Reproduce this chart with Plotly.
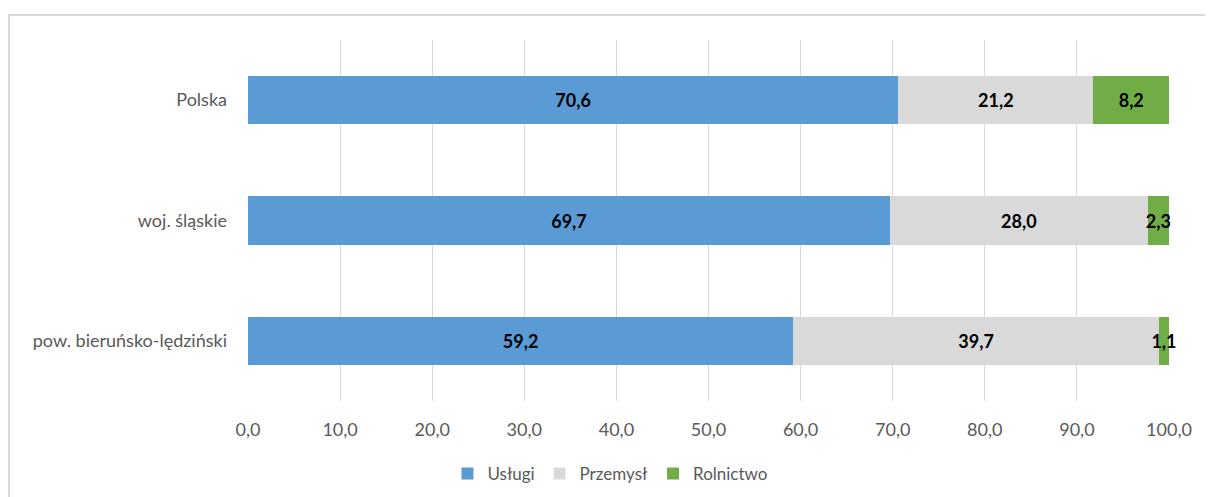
import plotly.graph_objects as go

# categories listed bottom to top
regions = ['pow. bieruńsko-lędziński', 'woj. śląskie', 'Polska']
uslugi = [59.2, 69.7, 70.6]
przemysl = [39.7, 28.0, 21.2]
rolnictwo = [1.1, 2.3, 8.2]
x_ticks = [0, 10, 20, 30, 40, 50, 60, 70, 80, 90, 100]

series = [('Usługi', uslugi, '#5B9BD5'),
          ('Przemysł', przemysl, '#D9D9D9'),
          ('Rolnictwo', rolnictwo, '#70AD47')]

fig = go.Figure()
for name, vals, color in series:
    fig.add_trace(go.Bar(
        y=regions, x=vals, name=name, orientation='h',
        marker=dict(color=color, line=dict(width=0)),
        texttemplate='%{x:.1f}', textposition='inside', textangle=0,
        insidetextanchor='middle', constraintext='none', cliponaxis=False,
        textfont=dict(family='Lato', size=18, color='black', weight='bold'),
    ))

# page body has an 8px margin, so the figure is drawn at (8, 8)
fig.update_layout(
    barmode='stack', bargap=0.6,
    width=1205, height=489,
    margin=dict(l=240, r=44, t=32, b=96, autoexpand=False),
    paper_bgcolor='white', plot_bgcolor='white',
    separators=', ',
    font=dict(family='Lato', color='#595959', size=17),
    legend=dict(orientation='h', x=0.393, xanchor='center',
                xref='paper', yref='container', y=0.047, yanchor='middle',
                traceorder='normal',
                font=dict(size=17, color='#595959'),
                itemwidth=30, tracegroupgap=0),
    shapes=[dict(type='rect', xref='paper', yref='paper',
                 x0=-0.2595, x1=1.2, y0=-0.5, y1=1.069,
                 line=dict(color='#D9D9D9', width=2), layer='below')],
)
fig.update_xaxes(range=[0, 100], tickvals=x_ticks, tickformat='.1f',
                 showgrid=True, gridcolor='#D9D9D9', gridwidth=1,
                 zeroline=False, showline=False, ticklabelstandoff=16,
                 tickfont=dict(size=18, color='#595959'))
fig.update_yaxes(showgrid=False, zeroline=False, showline=False,
                 ticklabelstandoff=20,
                 tickfont=dict(size=18, color='#595959'))

fig.write_html('out.html')
